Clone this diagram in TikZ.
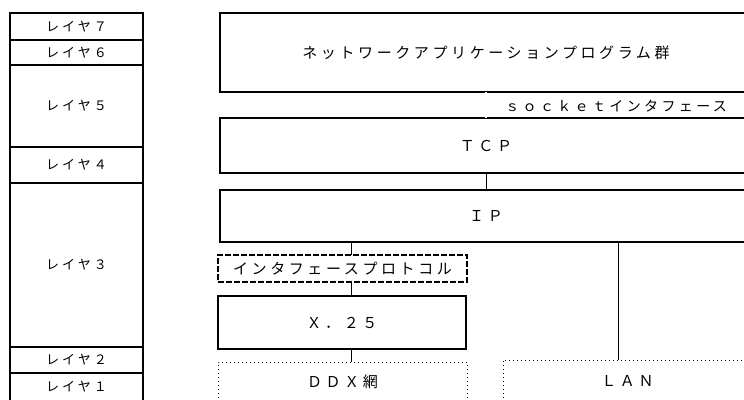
\documentclass[tikz,border=0pt]{standalone}
\usepackage{fontspec}
\setmainfont{Noto Sans CJK JP}
\newfontfamily\jpfont[LetterSpace=24]{Noto Sans CJK JP}
\usetikzlibrary{positioning}

\begin{document}
\begin{tikzpicture}[x=1pt, y=-1pt, semithick,
  layer/.style={draw, line width=1.1pt, outer sep=0pt, inner sep=0pt,
    minimum width=133pt, font=\jpfont\fontsize{13}{14}\selectfont},
  block/.style={draw, line width=1.2pt, outer sep=0pt, inner sep=0pt,
    minimum width=532pt, font=\jpfont\fontsize{15}{16}\selectfont},
  subblock/.style={block, minimum width=249pt},
  dashbox/.style={subblock, line width=1.4pt, dash pattern=on 6pt off 2pt},
  dotbox/.style={subblock, line width=0.8pt, dash pattern=on 1pt off 3pt}]
  \useasboundingbox (0,0) rectangle (744,399);
  \clip (0,0) rectangle (744,399);

  % OSI layers
  \node[layer, minimum height=27pt, anchor=north west] (L7) at (10,13) {レイヤ７};
  \node[layer, minimum height=25pt, below=0pt of L7] (L6) {レイヤ６};
  \node[layer, minimum height=82pt, below=0pt of L6] (L5) {レイヤ５};
  \node[layer, minimum height=36pt, below=0pt of L5] (L4) {レイヤ４};
  \node[layer, minimum height=164pt, below=0pt of L4] (L3) {レイヤ３};
  \node[layer, minimum height=26pt, below=0pt of L3] (L2) {レイヤ２};
  \node[layer, minimum height=28pt, below=0pt of L2] (L1) {レイヤ１};

  % protocol stack
  \node[block, minimum height=79pt, anchor=north west] (App) at (220,13) {ネットワークアプリケーションプログラム群};
  \node[block, minimum height=55pt, anchor=north west] (TCP) at (220,118) {ＴＣＰ};
  \node[block, minimum height=52pt, anchor=north west] (IP) at (220,190) {ＩＰ};
  \node[dashbox, minimum height=27pt, anchor=north west] (IF) at (218,255) {インタフェースプロトコル};
  \node[subblock, minimum height=53pt, minimum width=248pt, anchor=north west] (X25) at (218,296) {Ｘ．２５};
  \node[dotbox, minimum height=39pt, anchor=north west] (DDX) at (218,362) {ＤＤＸ網};
  \node[dotbox, minimum height=41pt, anchor=north west] (LAN) at (503,360) {ＬＡＮ};
  \node[anchor=west, inner sep=0pt, font=\jpfont\fontsize{14}{15}\selectfont] (Sock) at (505,106) {ｓｏｃｋｅｔインタフェース};

  \draw[line width=0.7pt, double, double distance=1.3pt] (App) -- (TCP);
  \path (TCP) edge (IP)
        ([xshift=9pt]IF.north) edge ([xshift=9pt]IF.north |- IP.south)
        ([xshift=9pt]X25.north) edge ([xshift=9pt]X25.north |- IF.south)
        ([xshift=9pt]DDX.north) edge ([xshift=9pt]DDX.north |- X25.south)
        ([xshift=-9pt]LAN.north) edge ([xshift=-9pt]LAN.north |- IP.south);
\end{tikzpicture}
\end{document}
